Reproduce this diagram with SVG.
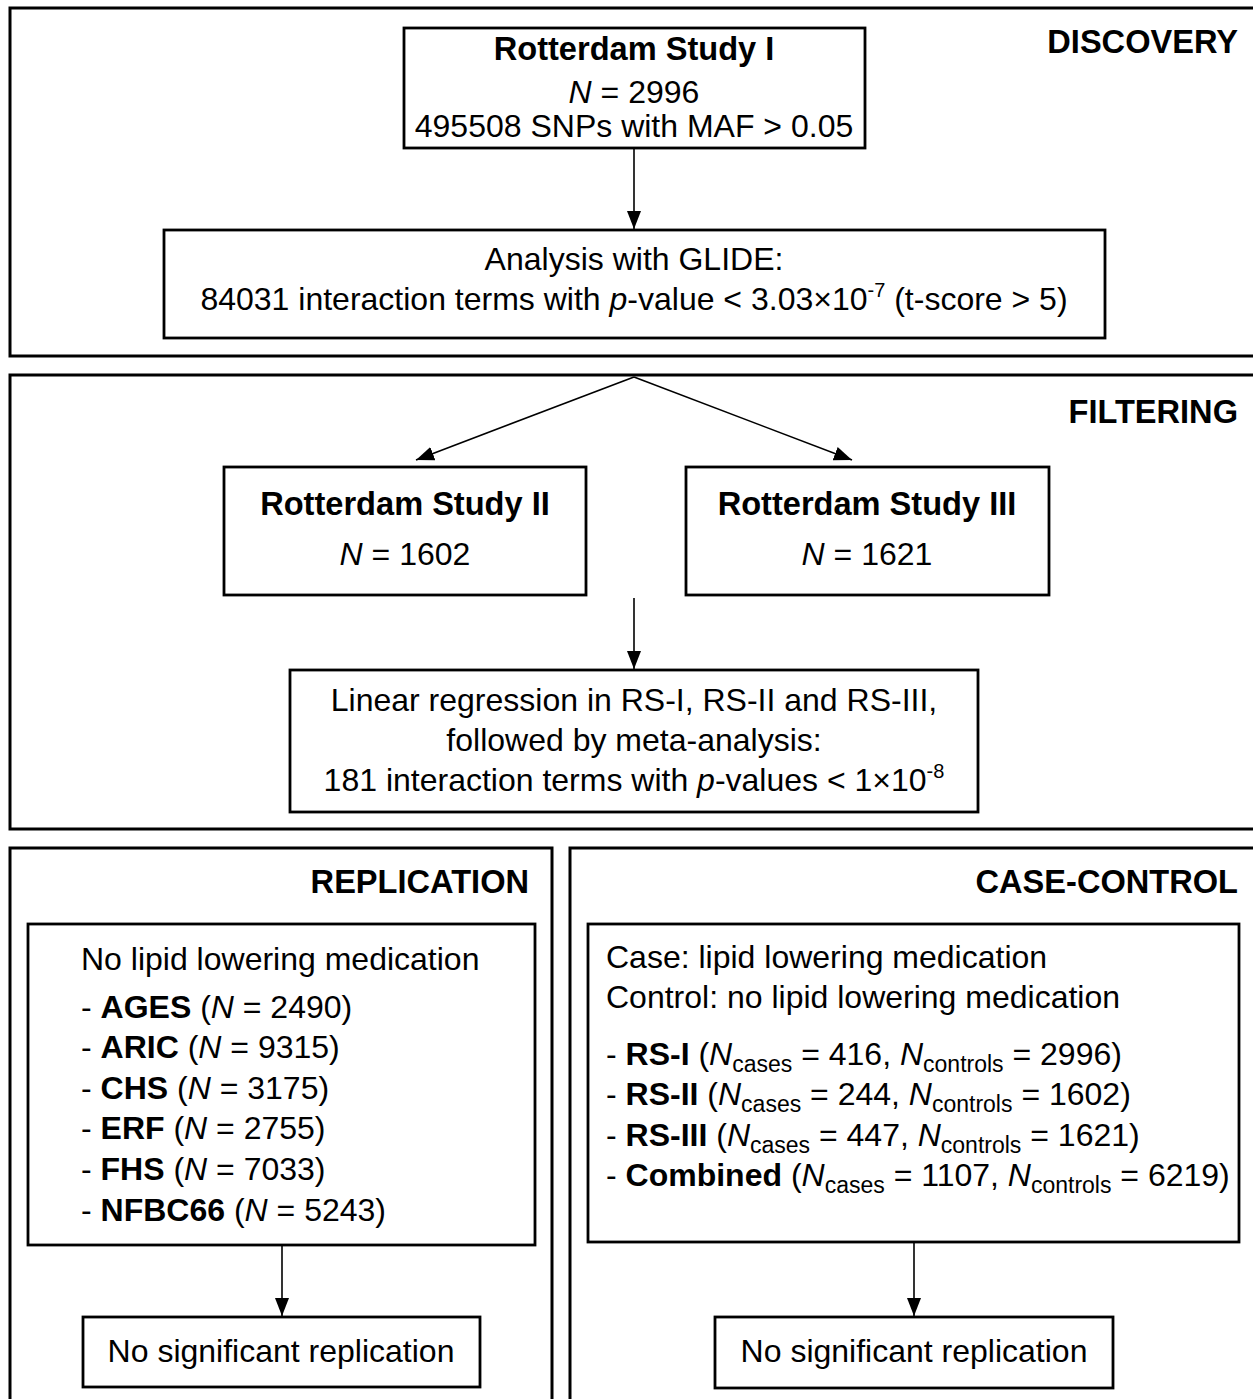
<svg xmlns="http://www.w3.org/2000/svg" width="1253" height="1399" viewBox="0 0 1253 1399">
<style>
text{font-family:"Liberation Sans",Arial,Helvetica,sans-serif;font-size:32px;fill:#000}
.b{font-weight:bold}
text.b{font-size:32.6px}
.i{font-style:italic}
.c{text-anchor:middle}
.r{text-anchor:end}
.sub{font-size:23px}
.sup{font-size:20px}
.panel{fill:none;stroke:#000;stroke-width:3}
.box{fill:#fff;stroke:#000;stroke-width:2.8}
.conn{stroke:#000;stroke-width:1.6;fill:none;marker-end:url(#ah)}
</style>
<defs>
<marker id="ah" markerWidth="19" markerHeight="15" refX="18" refY="7.5" orient="auto" markerUnits="userSpaceOnUse">
<path d="M0,0.5 L18,7.5 L0,14.5 Z" fill="#000"/>
</marker>
</defs>
<rect width="1253" height="1399" fill="#fff"/>

<g id="panels">
<rect class="panel" x="10" y="8" width="1260" height="348"/>
<rect class="panel" x="10" y="375" width="1260" height="454"/>
<rect class="panel" x="10" y="848" width="542" height="580"/>
<rect class="panel" x="570" y="848" width="700" height="580"/>
<text class="b r" x="1238" y="53">DISCOVERY</text>
<text class="b r" x="1238" y="423">FILTERING</text>
<text class="b r" x="529" y="893">REPLICATION</text>
<text class="b r" x="1238" y="893">CASE-CONTROL</text>
</g>

<g id="connectors">
<line class="conn" x1="634" y1="148" x2="634" y2="229"/>
<line class="conn" x1="634" y1="377" x2="416" y2="460"/>
<line class="conn" x1="634" y1="377" x2="852" y2="460"/>
<line class="conn" x1="634" y1="598" x2="634" y2="669"/>
<line class="conn" x1="282" y1="1246" x2="282" y2="1316"/>
<line class="conn" x1="914" y1="1243" x2="914" y2="1316"/>
</g>

<g id="rs1">
<rect class="box" x="404" y="28" width="461" height="120"/>
<text class="b c" x="634" y="60">Rotterdam Study I</text>
<text class="c" x="634" y="103"><tspan class="i">N</tspan> = 2996</text>
<text class="c" x="634" y="137">495508 SNPs with MAF &gt; 0.05</text>
</g>

<g id="glide">
<rect class="box" x="164" y="230" width="941" height="108"/>
<text class="c" x="634" y="270">Analysis with GLIDE:</text>
<text class="c" x="634" y="310">84031 interaction terms with <tspan class="i">p</tspan>-value &lt; 3.03×10<tspan class="sup" dy="-13">-7</tspan><tspan dy="13"> (t-score &gt; 5)</tspan></text>
</g>

<g id="rs2">
<rect class="box" x="224" y="467" width="362" height="128"/>
<text class="b c" x="405" y="515">Rotterdam Study II</text>
<text class="c" x="405" y="565"><tspan class="i">N</tspan> = 1602</text>
</g>

<g id="rs3">
<rect class="box" x="686" y="467" width="363" height="128"/>
<text class="b c" x="867" y="515">Rotterdam Study III</text>
<text class="c" x="867" y="565"><tspan class="i">N</tspan> = 1621</text>
</g>

<g id="linreg">
<rect class="box" x="290" y="670" width="688" height="142"/>
<text class="c" x="634" y="711">Linear regression in RS-I, RS-II and RS-III,</text>
<text class="c" x="634" y="751">followed by meta-analysis:</text>
<text class="c" x="634" y="791">181 interaction terms with <tspan class="i">p</tspan>-values &lt; 1×10<tspan class="sup" dy="-13">-8</tspan></text>
</g>

<g id="replication">
<rect class="box" x="28" y="924" width="507" height="321"/>
<text x="81" y="970">No lipid lowering medication</text>
<text x="81" y="1018">- <tspan class="b">AGES</tspan> (<tspan class="i">N</tspan> = 2490)</text>
<text x="81" y="1058">- <tspan class="b">ARIC</tspan> (<tspan class="i">N</tspan> = 9315)</text>
<text x="81" y="1099">- <tspan class="b">CHS</tspan> (<tspan class="i">N</tspan> = 3175)</text>
<text x="81" y="1139">- <tspan class="b">ERF</tspan> (<tspan class="i">N</tspan> = 2755)</text>
<text x="81" y="1180">- <tspan class="b">FHS</tspan> (<tspan class="i">N</tspan> = 7033)</text>
<text x="81" y="1221">- <tspan class="b">NFBC66</tspan> (<tspan class="i">N</tspan> = 5243)</text>
</g>

<g id="rep_result">
<rect class="box" x="83" y="1317" width="397" height="70"/>
<text class="c" x="281" y="1362">No significant replication</text>
</g>

<g id="casecontrol">
<rect class="box" x="588" y="924" width="651" height="318"/>
<text x="606" y="968">Case: lipid lowering medication</text>
<text x="606" y="1008">Control: no lipid lowering medication</text>
<text x="606" y="1065">- <tspan class="b">RS-I</tspan> (<tspan class="i">N</tspan><tspan class="sub" dy="7">cases</tspan><tspan dy="-7"> = 416, </tspan><tspan class="i">N</tspan><tspan class="sub" dy="7">controls</tspan><tspan dy="-7"> = 2996)</tspan></text>
<text x="606" y="1105">- <tspan class="b">RS-II</tspan> (<tspan class="i">N</tspan><tspan class="sub" dy="7">cases</tspan><tspan dy="-7"> = 244, </tspan><tspan class="i">N</tspan><tspan class="sub" dy="7">controls</tspan><tspan dy="-7"> = 1602)</tspan></text>
<text x="606" y="1146">- <tspan class="b">RS-III</tspan> (<tspan class="i">N</tspan><tspan class="sub" dy="7">cases</tspan><tspan dy="-7"> = 447, </tspan><tspan class="i">N</tspan><tspan class="sub" dy="7">controls</tspan><tspan dy="-7"> = 1621)</tspan></text>
<text x="606" y="1186">- <tspan class="b">Combined</tspan> (<tspan class="i">N</tspan><tspan class="sub" dy="7">cases</tspan><tspan dy="-7"> = 1107, </tspan><tspan class="i">N</tspan><tspan class="sub" dy="7">controls</tspan><tspan dy="-7"> = 6219)</tspan></text>
</g>

<g id="cc_result">
<rect class="box" x="715" y="1317" width="398" height="71"/>
<text class="c" x="914" y="1362">No significant replication</text>
</g>
</svg>
